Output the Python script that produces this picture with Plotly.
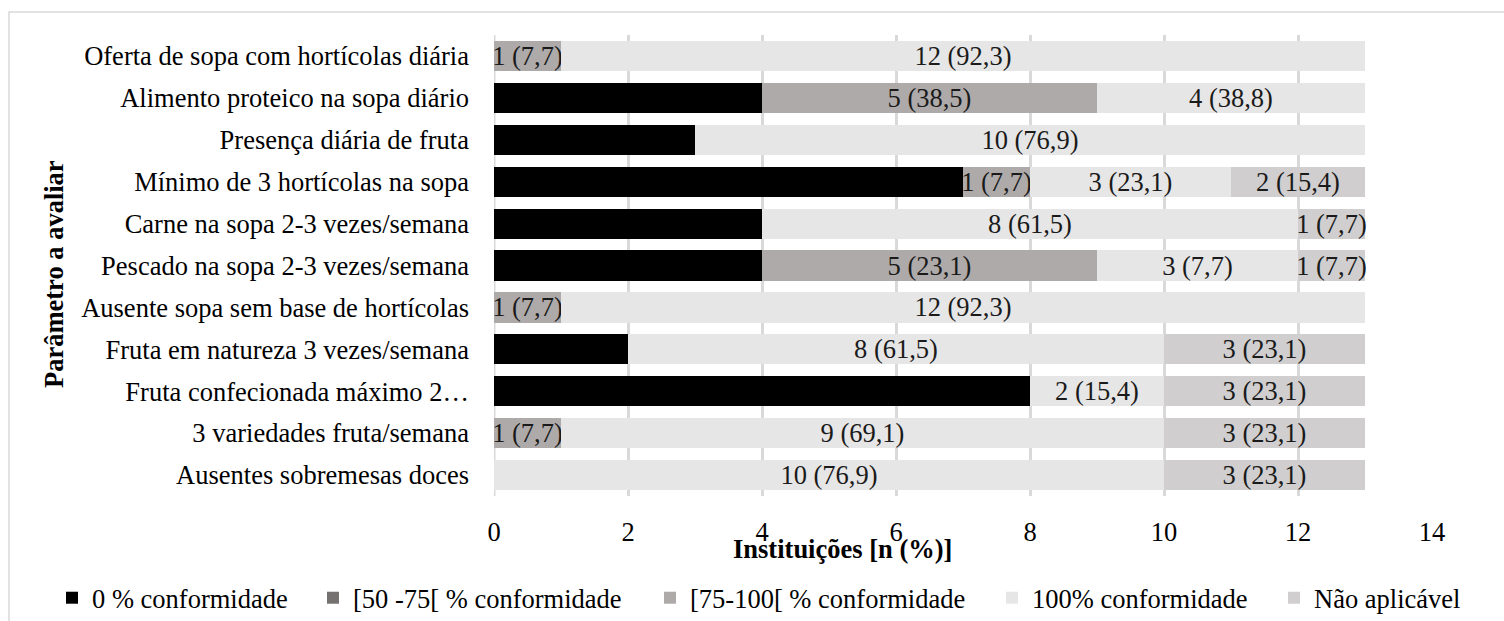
import plotly.graph_objects as go

# Parameters evaluated (top to bottom as displayed)
categories = [
    "Oferta de sopa com hortícolas diária",
    "Alimento proteico na sopa diário",
    "Presença diária de fruta",
    "Mínimo de 3 hortícolas na sopa",
    "Carne na sopa 2-3 vezes/semana",
    "Pescado na sopa 2-3 vezes/semana",
    "Ausente sopa sem base de hortícolas",
    "Fruta em natureza 3 vezes/semana",
    "Fruta confecionada máximo 2…",
    "3 variedades fruta/semana",
    "Ausentes sobremesas doces",
]

# Number of institutions per conformity class
conf_0 = [0, 4, 3, 7, 4, 4, 0, 2, 8, 0, 0]
conf_50_75 = [0, 0, 0, 0, 0, 0, 0, 0, 0, 0, 0]
conf_75_100 = [1, 5, 0, 1, 0, 5, 1, 0, 0, 1, 0]
conf_100 = [12, 4, 10, 3, 8, 3, 12, 8, 2, 9, 10]
nao_aplicavel = [0, 0, 0, 2, 1, 1, 0, 3, 3, 3, 3]

# Percentages shown next to the counts
pct_75_100 = ["7,7", "38,5", "", "7,7", "", "23,1", "7,7", "", "", "7,7", ""]
pct_100 = ["92,3", "38,8", "76,9", "23,1", "61,5", "7,7", "92,3", "61,5", "15,4", "69,1", "76,9"]
pct_na = ["", "", "", "15,4", "7,7", "7,7", "", "23,1", "23,1", "23,1", "23,1"]

x_ticks = [0, 2, 4, 6, 8, 10, 12, 14]

FONT = "Liberation Serif, Times New Roman, serif"
FS = 26.5

W, H = 1504, 621
ML, MR, MT, MB = 494, 72, 35, 125
PW, PH = W - ML - MR, H - MT - MB


def px_x(px):
    return (px - ML) / PW


def px_y(py):
    return (H - MB - py) / PH


def labels(values, pcts):
    return [f"{v} ({p})" if v else "" for v, p in zip(values, pcts)]


series = [
    ("0 % conformidade", conf_0, None, "#000000", 216),
    ("[50 -75[ % conformidade", conf_50_75, None, "#767171", 292),
    ("[75-100[ % conformidade", conf_75_100, pct_75_100, "#AEAAAA", 297),
    ("100% conformidade", conf_100, pct_100, "#E7E6E6", 237),
    ("Não aplicável", nao_aplicavel, pct_na, "#D0CECE", 160),
]

fig = go.Figure()
for name, vals, pcts, color, lw in series:
    fig.add_trace(go.Bar(
        name=name,
        y=categories,
        x=vals,
        orientation="h",
        marker=dict(color=color, line=dict(width=0)),
        text=labels(vals, pcts) if pcts else None,
        textposition="inside",
        insidetextanchor="middle",
        textangle=0,
        constraintext="none",
        textfont=dict(family=FONT, size=FS, color="#1a1a1a"),
        cliponaxis=False,
        legendwidth=lw,
        hoverinfo="x+y+name",
    ))

fig.update_layout(
    width=W,
    height=H,
    barmode="stack",
    bargap=0.28,
    margin=dict(l=ML, r=MR, t=MT, b=MB, autoexpand=False),
    paper_bgcolor="white",
    plot_bgcolor="white",
    font=dict(family=FONT, size=FS, color="#000000"),
    showlegend=True,
    legend=dict(
        orientation="h",
        x=px_x(52),
        xanchor="left",
        y=px_y(598),
        yanchor="middle",
        font=dict(family=FONT, size=FS, color="#000000"),
        traceorder="normal",
        itemclick=False,
    ),
    xaxis=dict(
        range=[0, 14],
        tickvals=x_ticks,
        showgrid=True,
        gridcolor="#D9D9D9",
        gridwidth=3,
        zeroline=False,
        showline=False,
        ticks="",
        ticklabelstandoff=17,
        tickfont=dict(family=FONT, size=FS, color="#000000"),
    ),
    yaxis=dict(
        categoryorder="array",
        categoryarray=categories[::-1],
        autorange=False,
        range=[-0.5, len(categories) - 0.5],
        showgrid=False,
        zeroline=False,
        showline=False,
        ticks="",
        ticklabelstandoff=24,
        tickfont=dict(family=FONT, size=FS, color="#000000"),
    ),
    shapes=[
        dict(type="line", xref="x", yref="paper", x0=0, x1=0, y0=0, y1=1,
             line=dict(color="#D9D9D9", width=3), layer="below"),
        dict(type="rect", xref="paper", yref="paper",
             x0=px_x(9), x1=px_x(1515), y0=px_y(12), y1=px_y(640),
             line=dict(color="#D9D9D9", width=1.5), layer="below"),
    ],
    annotations=[
        dict(text="<b>Instituições [n (%)]</b>", xref="paper", yref="paper",
             x=px_x(842), y=px_y(549), xanchor="center", yanchor="middle",
             showarrow=False, font=dict(family=FONT, size=FS, color="#000000")),
        dict(text="<b>Parâmetro a avaliar</b>", xref="paper", yref="paper",
             x=px_x(54), y=px_y(274), xanchor="center", yanchor="middle",
             textangle=-90, showarrow=False,
             font=dict(family=FONT, size=FS, color="#000000")),
    ],
)

fig.write_html("out.html")
